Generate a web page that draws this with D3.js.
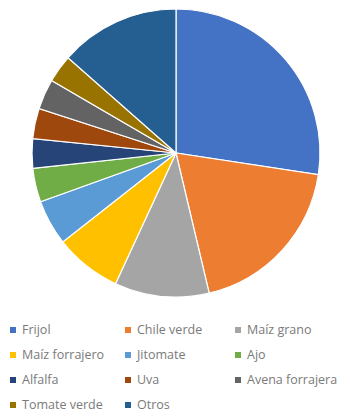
<!DOCTYPE html>
<html>
<head>
<meta charset="utf-8">
<script src="https://cdn.jsdelivr.net/npm/d3@7"></script>
<style>
  html, body { margin: 0; padding: 0; background: #ffffff; }
  svg { display: block; }
</style>
</head>
<body>
<svg id="chart" width="347" height="413"></svg>
<script>
const categories = ["Frijol", "Chile verde", "Maíz grano", "Maíz forrajero", "Jitomate", "Ajo",
                    "Alfalfa", "Uva", "Avena forrajera", "Tomate verde", "Otros"];
const values = [27.4, 18.9, 10.6, 7.5, 5.1, 3.8, 3.3, 3.4, 3.4, 3.1, 13.5];
const colors = ["#4472C4", "#ED7D31", "#A5A5A5", "#FFC000", "#5B9BD5", "#70AD47",
                "#264478", "#9E480E", "#636363", "#997300", "#255E91"];

const svg = d3.select("#chart");
const cx = 176, cy = 153, r = 144;

const data = categories.map((c, i) => ({ name: c, value: values[i] }));
const pie = d3.pie().sort(null).value(d => d.value);
const arc = d3.arc().innerRadius(0).outerRadius(r);
const color = d3.scaleOrdinal().domain(categories).range(colors);

svg.append("g")
  .attr("transform", `translate(${cx},${cy})`)
  .selectAll("path")
  .data(pie(data))
  .join("path")
  .attr("d", arc)
  .attr("fill", d => color(d.data.name))
  .attr("stroke", "#ffffff")
  .attr("stroke-width", 1.2);

// Legend
const colX = [13, 128, 238];
const rowY = [330, 355, 380, 405];
const legend = svg.append("g");
data.forEach((d, i) => {
  const col = i % 3, row = Math.floor(i / 3);
  const g = legend.append("g").attr("transform", `translate(${colX[col]},${rowY[row]})`);
  g.append("rect").attr("x", -3).attr("y", -3).attr("width", 6).attr("height", 6)
    .attr("fill", color(d.name));
  g.append("text").attr("x", 9).attr("y", 0).attr("dy", "0.35em")
    .attr("font-family", "Open Sans, sans-serif").attr("font-size", 12.5)
    .attr("fill", "#7a7a7a").text(d.name);
});
</script>
</body>
</html>
